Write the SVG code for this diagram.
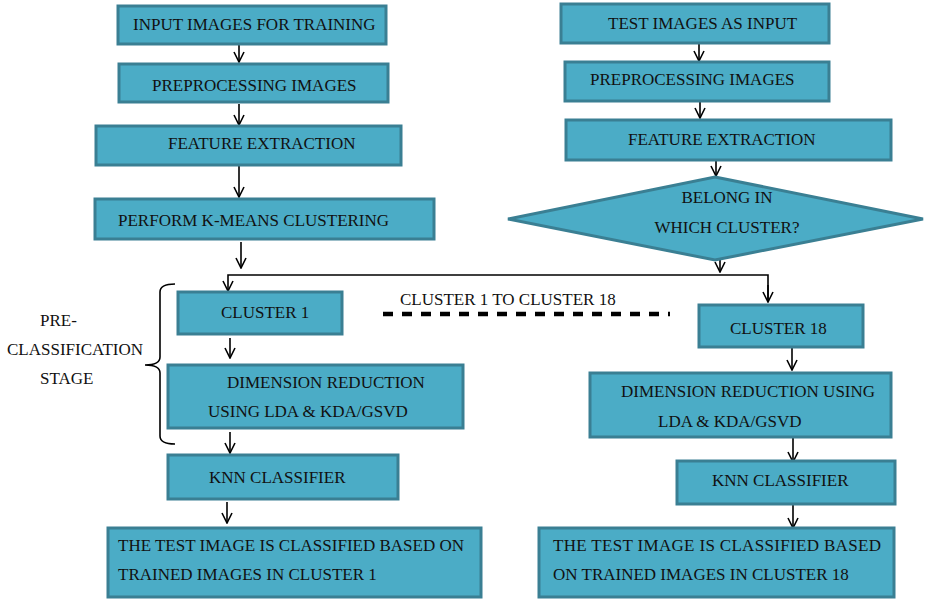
<svg xmlns="http://www.w3.org/2000/svg" width="926" height="599" viewBox="0 0 926 599">
<style>
  .box { fill: #4bacc6; stroke: #3a7f93; stroke-width: 3; }
  .t { font-family: "Liberation Serif", "Times New Roman", serif; font-size: 17px; fill: #111; }
  .c { fill: none; stroke: #000; stroke-width: 1.6; }
</style>
<defs>
  <marker id="ah" viewBox="0 0 12 12" refX="11" refY="6" markerWidth="12" markerHeight="12" markerUnits="userSpaceOnUse" orient="auto">
    <path d="M1,1 L11,6 L1,11" fill="none" stroke="#000" stroke-width="1.6"/>
  </marker>
</defs>
<rect width="926" height="599" fill="#fff"/>

<g id="connectors">
  <line class="c" x1="239" y1="45" x2="239" y2="62" marker-end="url(#ah)"/>
  <line class="c" x1="239" y1="104" x2="239" y2="125" marker-end="url(#ah)"/>
  <line class="c" x1="239" y1="166" x2="239" y2="197" marker-end="url(#ah)"/>
  <line class="c" x1="241" y1="242" x2="241" y2="268" marker-end="url(#ah)"/>
  <polyline class="c" points="768,302 768,275 228,275 228,291" marker-end="url(#ah)"/>
  <line class="c" x1="768" y1="285" x2="768" y2="302" marker-end="url(#ah)"/>
  <line class="c" x1="230" y1="338" x2="230" y2="358" marker-end="url(#ah)"/>
  <line class="c" x1="230" y1="432" x2="230" y2="453" marker-end="url(#ah)"/>
  <line class="c" x1="227" y1="502" x2="227" y2="523" marker-end="url(#ah)"/>
  <line class="c" x1="699" y1="44" x2="699" y2="61" marker-end="url(#ah)"/>
  <line class="c" x1="700" y1="96" x2="700" y2="118" marker-end="url(#ah)"/>
  <line class="c" x1="716" y1="161" x2="716" y2="176" marker-end="url(#ah)"/>
  <line class="c" x1="720" y1="259" x2="720" y2="272" marker-end="url(#ah)"/>
  <line class="c" x1="792" y1="348" x2="792" y2="370" marker-end="url(#ah)"/>
  <line class="c" x1="793" y1="438" x2="793" y2="462" marker-end="url(#ah)"/>
  <line class="c" x1="793" y1="505" x2="793" y2="528" marker-end="url(#ah)"/>
  <line x1="383" y1="314" x2="670" y2="314" stroke="#000" stroke-width="4.5" stroke-dasharray="10 9"/>
  <path class="c" d="M175,284 Q160,284 160,292 L160,357 Q160,365 145,365 Q160,365 160,373 L160,436 Q160,444 175,444"/>
</g>

<g id="label-cluster-range"><text class="t" x="400" y="305">CLUSTER 1 TO CLUSTER 18</text></g>
<g id="label-preclass">
  <text class="t" x="40" y="326">PRE-</text>
  <text class="t" x="7" y="355">CLASSIFICATION</text>
  <text class="t" x="40" y="384">STAGE</text>
</g>

<g id="n-input-train"><rect class="box" x="118" y="6" width="268" height="38"/><text class="t" x="133" y="30">INPUT IMAGES FOR TRAINING</text></g>
<g id="n-prep-train"><rect class="box" x="119" y="64" width="269" height="38"/><text class="t" x="152" y="91">PREPROCESSING IMAGES</text></g>
<g id="n-feat-train"><rect class="box" x="96" y="126" width="305" height="39"/><text class="t" x="168" y="149">FEATURE EXTRACTION</text></g>
<g id="n-kmeans"><rect class="box" x="95" y="199" width="339" height="40"/><text class="t" x="118" y="226">PERFORM K-MEANS CLUSTERING</text></g>
<g id="n-cluster1"><rect class="box" x="178" y="292" width="164" height="42"/><text class="t" x="221" y="318">CLUSTER 1</text></g>
<g id="n-dim1"><rect class="box" x="168" y="365" width="295" height="63"/><text class="t" x="227" y="388">DIMENSION REDUCTION</text><text class="t" x="208" y="417">USING LDA &amp; KDA/GSVD</text></g>
<g id="n-knn1"><rect class="box" x="168" y="455" width="230" height="44"/><text class="t" x="209" y="483">KNN CLASSIFIER</text></g>
<g id="n-result1"><rect class="box" x="108" y="528" width="373" height="69"/><text class="t" x="118" y="551">THE TEST IMAGE IS CLASSIFIED BASED ON</text><text class="t" x="118" y="580">TRAINED IMAGES IN CLUSTER 1</text></g>

<g id="n-input-test"><rect class="box" x="561" y="4" width="268" height="39"/><text class="t" x="608" y="29">TEST IMAGES AS INPUT</text></g>
<g id="n-prep-test"><rect class="box" x="565" y="62" width="264" height="39"/><text class="t" x="590" y="85">PREPROCESSING IMAGES</text></g>
<g id="n-feat-test"><rect class="box" x="566" y="120" width="325" height="40"/><text class="t" x="628" y="145">FEATURE EXTRACTION</text></g>
<g id="n-decision"><polygon class="box" points="715,177 923,219 715,260 508,219"/><text class="t" x="727" y="203" text-anchor="middle">BELONG IN</text><text class="t" x="727" y="233" text-anchor="middle">WHICH CLUSTER?</text></g>
<g id="n-cluster18"><rect class="box" x="699" y="305" width="164" height="42"/><text class="t" x="730" y="334">CLUSTER 18</text></g>
<g id="n-dim18"><rect class="box" x="590" y="373" width="301" height="64"/><text class="t" x="621" y="397">DIMENSION REDUCTION USING</text><text class="t" x="658" y="427">LDA &amp; KDA/GSVD</text></g>
<g id="n-knn18"><rect class="box" x="677" y="461" width="218" height="43"/><text class="t" x="712" y="486">KNN CLASSIFIER</text></g>
<g id="n-result18"><rect class="box" x="539" y="528" width="355" height="69"/><text class="t" x="553" y="551" textLength="328" lengthAdjust="spacing">THE TEST IMAGE IS CLASSIFIED BASED</text><text class="t" x="553" y="580">ON TRAINED IMAGES IN CLUSTER 18</text></g>
</svg>
